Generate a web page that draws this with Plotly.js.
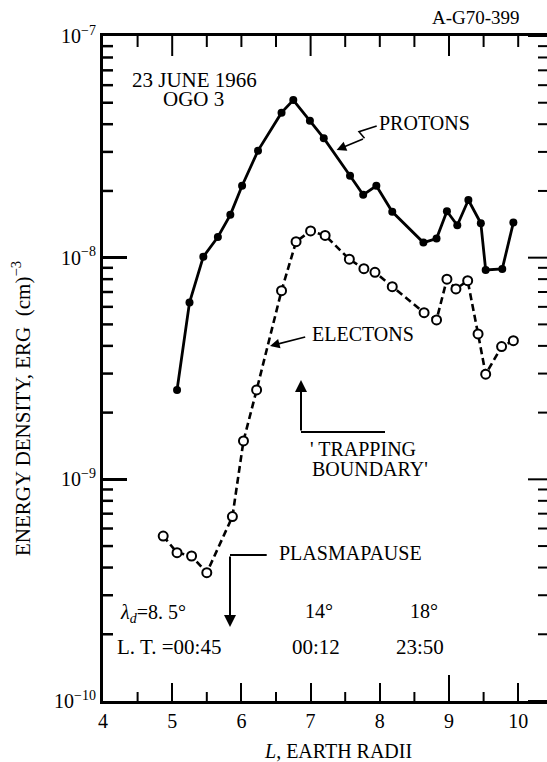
<!DOCTYPE html>
<html>
<head>
<meta charset="utf-8">
<script src="https://cdn.plot.ly/plotly-3.0.1.min.js"></script>
<style>html,body{margin:0;padding:0;background:#fff;overflow:hidden;}#chart{width:550px;height:762px;}
#diag{position:absolute;left:432px;top:7px;width:110px;height:22px;line-height:22px;font-family:'Liberation Serif','Times New Roman',serif;font-size:19px;color:#000;white-space:pre-wrap;z-index:10;pointer-events:none;}</style>
</head>
<body>
<div id="chart"></div>
<div id="diag"></div>
<script>
const errs = [];
window.onerror = (m) => { errs.push(String(m)); };
// ---- data ----
const protonL = [5.07, 5.25, 5.45, 5.66, 5.84, 6.01, 6.24, 6.58, 6.75, 6.99, 7.19, 7.57, 7.76, 7.95, 8.18, 8.63, 8.82, 8.97, 9.12, 9.28, 9.46, 9.53, 9.77, 9.93];
const protonE = [2.53e-9, 6.27e-9, 1.01e-8, 1.24e-8, 1.56e-8, 2.11e-8, 3.04e-8, 4.51e-8, 5.14e-8, 4.15e-8, 3.46e-8, 2.34e-8, 1.92e-8, 2.11e-8, 1.61e-8, 1.17e-8, 1.22e-8, 1.62e-8, 1.40e-8, 1.82e-8, 1.43e-8, 8.8e-9, 8.9e-9, 1.44e-8];
const electronL = [4.87, 5.07, 5.28, 5.50, 5.87, 6.03, 6.22, 6.58, 6.79, 7.00, 7.21, 7.56, 7.77, 7.93, 8.18, 8.64, 8.82, 8.97, 9.10, 9.27, 9.42, 9.53, 9.76, 9.93];
const electronE = [5.55e-10, 4.67e-10, 4.51e-10, 3.79e-10, 6.79e-10, 1.49e-9, 2.53e-9, 7.10e-9, 1.18e-8, 1.32e-8, 1.26e-8, 9.84e-9, 8.92e-9, 8.59e-9, 7.40e-9, 5.65e-9, 5.24e-9, 8.0e-9, 7.23e-9, 7.87e-9, 4.53e-9, 2.98e-9, 3.97e-9, 4.22e-9];
const xTickVals = [4, 5, 6, 7, 8, 9, 10];
const xTickText = ['4', '5', '6', '7', '8', '9', '10'];
const yTickVals = [1e-10, 1e-9, 1e-8, 1e-7];
const yTickText = ['10<sup>−10</sup>', '10<sup>−9</sup>', '10<sup>−8</sup>', '10<sup>−7</sup>'];
const figureTag = 'A-G70-399';

// ---- layout helpers ----
const W = 550, H = 762;
const PL = 103, PR = 550, PT = 36, PB = 701;
const FONT = 'Liberation Serif, Times New Roman, serif';
const xRange = [4, 4 + (PR - PL) / 69.2];
const yRange = [-10, -7];
const px = x => (x - PL) / (PR - PL);
const py = y => (PB - y) / (PB - PT);
const xv = v => (v - xRange[0]) / (xRange[1] - xRange[0]);
const yv = v => (Math.log10(v) - yRange[0]) / (yRange[1] - yRange[0]);
const dxp = p => p / (PR - PL), dyp = p => p / (PB - PT);

const traces = [
  {x: protonL, y: protonE, type: 'scatter', mode: 'lines+markers',
   line: {color: '#000', width: 2.8}, marker: {color: '#000', size: 8}, showlegend: false, name: 'PROTONS'},
  {x: electronL, y: electronE, type: 'scatter', mode: 'lines+markers',
   line: {color: '#000', width: 2.6, dash: '7px,4px'},
   marker: {color: '#fff', size: 9, line: {color: '#000', width: 2}}, showlegend: false, name: 'ELECTONS'}
];

function txt(text, x, y, opts) {
  return Object.assign({text: text, xref: 'paper', yref: 'paper', x: px(x), y: py(y),
    xanchor: 'left', yanchor: 'middle', showarrow: false, font: {family: FONT, size: 20, color: '#000'}}, opts || {});
}
function arrow(tipX, tipY, tailX, tailY, w) {
  return {text: '', xref: 'paper', yref: 'paper', x: px(tipX), y: py(tipY),
    ax: tailX - tipX, ay: tailY - tipY, axref: 'pixel', ayref: 'pixel',
    showarrow: true, arrowhead: 2, arrowsize: 1.2, arrowwidth: w || 2, arrowcolor: '#000'};
}
const F21 = {family: FONT, size: 21, color: '#000'};

const annotations = [
  txt('23 JUNE 1966', 130, 80, {font: F21}),
  txt('OGO 3', 161, 99, {font: F21}),
  txt('PROTONS', 377, 123),
  txt('ELECTONS', 310, 334),
  txt("' TRAPPING", 308, 449),
  txt("BOUNDARY'", 310, 469),
  txt('PLASMAPAUSE', 277, 553),
  txt('<i>λ</i><sub><i>d</i></sub>=8. 5°', 118, 613),
  txt('14°', 303, 611),
  txt('18°', 408, 611),
  txt('L. T. =00:45', 115, 647, {font: F21}),
  txt('00:12', 290, 647, {font: F21}),
  txt('23:50', 394, 647, {font: F21}),
  txt('<i>L</i>, EARTH RADII', 338, 751, {xanchor: 'center'}),
  txt('ENERGY DENSITY, ERG  (cm)<sup>−3</sup>', 22, 409, {xanchor: 'center', textangle: -90, font: F21}),
  arrow(336.6, 150, 364.5, 138.3, 1.6),
  arrow(270, 346, 306.7, 336.7, 1.6),
  arrow(301, 380, 301, 432, 2),
  arrow(230, 627, 230, 555, 2)
];

const shapes = [
  {type: 'path', xref: 'paper', yref: 'paper',
   path: `M ${px(376.7)},${py(126)} L ${px(359)},${py(131.7)} L ${px(364.5)},${py(138.3)}`,
   line: {color: '#000', width: 1.6}},
  {type: 'line', xref: 'paper', yref: 'paper', x0: px(301), y0: py(432), x1: px(385), y1: py(432), line: {color: '#000', width: 2}},
  {type: 'line', xref: 'paper', yref: 'paper', x0: px(230), y0: py(555), x1: px(266.7), y1: py(555), line: {color: '#000', width: 2}}
];
const tickLine = (x0, y0, x1, y1, w) => ({type: 'line', xref: 'paper', yref: 'paper', x0, y0, x1, y1,
  line: {color: '#000', width: w || 2}, layer: 'above'});
[4.5, 5.5, 6.5, 7.5, 8.5, 9.5].forEach(v => shapes.push(tickLine(xv(v), 0, xv(v), dyp(9))));
shapes.push(tickLine(xv(9), 0, xv(9), dyp(26)));
[5, 7, 9].forEach(v => shapes.push(tickLine(xv(v), 1, xv(v), 1 - dyp(20))));
[4.5, 5.5, 6, 6.5, 7.5, 8, 8.5, 9.5, 10].forEach(v => shapes.push(tickLine(xv(v), 1, xv(v), 1 - dyp(11))));
for (let d = -10; d < -7; d++) {
  for (let m = 2; m <= 9; m++) {
    const v = m * Math.pow(10, d);
    shapes.push(tickLine(0, yv(v), dxp(10), yv(v), 2.5));
    shapes.push(tickLine(1, yv(v), 1 - dxp(12), yv(v), 2));
  }
}
yTickVals.forEach(v => shapes.push(tickLine(1, yv(v), 1 - dxp(22), yv(v), 2)));

const layout = {
  width: W, height: H,
  margin: {l: PL, r: W - PR, t: PT, b: H - PB, pad: 0},
  paper_bgcolor: '#fff', plot_bgcolor: '#fff',
  font: {family: FONT, size: 19, color: '#000'},
  showlegend: false,
  xaxis: {range: xRange, type: 'linear', showgrid: false, zeroline: false,
    showline: true, mirror: true, linewidth: 3, linecolor: '#000',
    tickmode: 'array', tickvals: xTickVals, ticktext: xTickText,
    ticks: 'inside', ticklen: 18, tickwidth: 2, tickcolor: '#000',
    tickfont: {family: FONT, size: 20, color: '#000'}},
  yaxis: {type: 'log', range: yRange, showgrid: false, zeroline: false,
    showline: true, linewidth: 3, linecolor: '#000',
    tickmode: 'array', tickvals: yTickVals, ticktext: yTickText,
    ticks: 'inside', ticklen: 24, tickwidth: 2.5, tickcolor: '#000',
    tickfont: {family: FONT, size: 20, color: '#000'}},
  annotations: annotations,
  shapes: shapes
};

function report() {
  const q = s => document.querySelectorAll(s).length;
  q('path.xtick'); q('path.ytick'); q('.shapelayer path'); q('.annotation');
  document.elementFromPoint(172, 692);
  document.getElementById('diag').textContent = figureTag;
}
Plotly.newPlot('chart', traces, layout, {displayModeBar: false, staticPlot: true}).then(report, e => { errs.push('p:' + e); report(); });
setTimeout(report, 1500);
</script>
</body>
</html>
